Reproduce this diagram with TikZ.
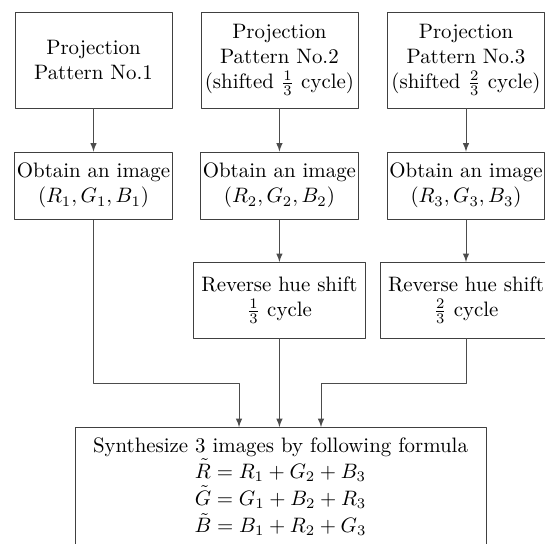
\documentclass[tikz,border=0pt]{standalone}
\usetikzlibrary{positioning}
\tikzset{
	box/.style={draw=black!75, align=center, inner sep=1pt, minimum width=2.643cm, minimum height=1.616cm},
	obtbox/.style={box, minimum height=1.136cm},
	revbox/.style={box, minimum width=2.896cm, minimum height=1.274cm},
	link/.style={draw=black!70, ->}
}
\begin{document}
\begin{tikzpicture}[line join=round, >=latex, thin]
	\useasboundingbox (0,0) rectangle (9.175,-9.158);
	% projection patterns
	\node[box] (p1) at (1.574,-1.010) {Projection\\ Pattern No.1};
	\node[box] (p2) at (4.704,-1.010) {Projection\\ Pattern No.2\\ (shifted $\frac{1}{3}$ cycle)};
	\node[box] (p3) at (7.845,-1.010) {Projection\\ Pattern No.3\\ (shifted $\frac{2}{3}$ cycle)};
	% images
	\node[obtbox] (o1) at (1.574,-3.126) {Obtain an image\\ $(R_1,G_1,B_1)$};
	\node[obtbox] (o2) at (4.704,-3.126) {Obtain an image\\ $(R_2,G_2,B_2)$};
	\node[obtbox] (o3) at (7.845,-3.126) {Obtain an image\\ $(R_3,G_3,B_3)$};
	% hue shift
	\node[revbox] (r2) at (4.704,-5.054) {Reverse hue shift\\ $\frac{1}{3}$ cycle};
	\node[revbox] (r3) at (7.845,-5.054) {Reverse hue shift\\ $\frac{2}{3}$ cycle};
	% synthesis
	\node[draw=black!75, align=center, anchor=north, minimum width=6.919cm, minimum height=2.0cm, inner sep=2pt]
		(syn) at (4.722,-7.189) {Synthesize 3 images by following formula\\
		$\tilde{R}=R_1+G_2+B_3$\\[1pt] $\tilde{G}=G_1+B_2+R_3$\\[1pt] $\tilde{B}=B_1+R_2+G_3$};
	\coordinate (j1) at (4.024,-6.448);
	\coordinate (j3) at (5.404,-6.448);
	\foreach \i in {1,2,3} \draw[link] (p\i) -- (o\i);
	\draw[link] (o2) -- (r2);
	\draw[link] (o3) -- (r3);
	\draw[link] (o1.south) |- (j1) -- (j1 |- syn.north);
	\draw[link] (r2.south) -- (r2.south |- syn.north);
	\draw[link] (r3.south) |- (j3) -- (j3 |- syn.north);
\end{tikzpicture}
\end{document}
